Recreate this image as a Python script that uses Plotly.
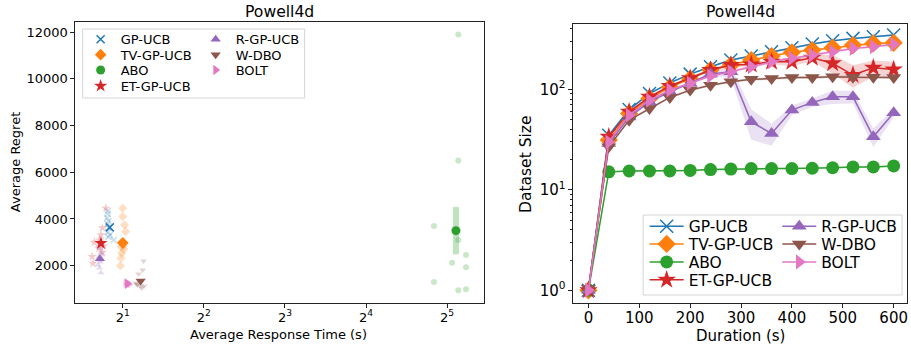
import plotly.graph_objects as go

# ---------------- data ----------------
methods = ["GP-UCB", "TV-GP-UCB", "ABO", "ET-GP-UCB", "R-GP-UCB", "W-DBO", "BOLT"]

# left panel: mean response time (s) and mean regret per method
mean_time = [1.79, 2.00, 34.5, 1.66, 1.645, 2.33, 2.08]
mean_regret = [3640, 2980, 3500, 2960, 2300, 1345, 1230]
abo_regret_err = 1010

# left panel: individual runs
gp_time = [1.76, 1.76, 1.75, 1.77, 1.76, 1.77, 1.76, 1.79, 1.77, 1.85]
gp_regret = [4340, 4210, 4040, 3910, 3790, 3610, 3440, 3320, 3230, 3100]
tv_time = [2.00, 2.00, 2.03, 2.05, 1.97, 1.98, 1.97, 1.96, 2.01, 2.02]
tv_regret = [4460, 4100, 3740, 3460, 2810, 2530, 2320, 2000, 2850, 2700]
abo_time = [35.2, 35.2, 28.6, 35.2, 37.6, 33.4, 37.6, 28.6, 35.2, 37.6]
abo_regret = [11890, 6500, 3700, 3100, 2460, 2130, 1930, 1300, 950, 990]
et_time = [1.73, 1.66, 1.57, 1.68, 1.55, 1.54, 1.70, 1.63, 1.68, 1.64]
et_regret = [4460, 3320, 3000, 2570, 2100, 2390, 2840, 2750, 3620, 3100]
r_time = [1.64, 1.66, 1.63, 1.65, 1.62, 1.64, 1.66, 1.65, 1.63, 1.67]
r_regret = [2750, 2560, 2390, 2240, 2030, 1900, 1700, 2160, 2890, 2460]
w_time = [2.39, 2.37, 2.29, 2.27, 2.33, 2.40, 2.24, 2.32, 2.35, 2.26]
w_regret = [2200, 1820, 1650, 1170, 1130, 1130, 1250, 1320, 1050, 1220]
bolt_time = [2.04, 2.06, 2.08, 2.10, 2.12, 2.05, 2.07, 2.09, 2.13, 2.05]
bolt_regret = [1180, 1230, 1270, 1250, 1210, 1300, 1160, 1240, 1200, 1280]

run_times = [gp_time, tv_time, abo_time, et_time, r_time, w_time, bolt_time]
run_regrets = [gp_regret, tv_regret, abo_regret, et_regret, r_regret, w_regret, bolt_regret]

# right panel: dataset size over duration
duration = [0, 40, 80, 120, 160, 200, 240, 280, 320, 360, 400, 440, 480, 520, 560, 600]
size_gp = [1, 35, 63, 91, 116, 142, 168, 196, 215, 237, 260, 283, 305, 322, 334, 348]
size_tv = [1, 31.3, 57.6, 81.3, 105, 127, 156, 175, 196, 215, 234, 246, 260, 276, 287, 291]
size_abo = [1, 15.1, 15.4, 15.4, 15.4, 15.6, 15.9, 16.1, 16.3, 16.3, 16.3, 16.4, 16.6, 16.9, 16.9, 17.3]
size_et = [1, 33.7, 59.8, 84.4, 108, 129, 156, 175, 177, 188, 188, 206, 182, 139, 164, 158]
size_r = [1, 29, 53, 75, 94.6, 115, 142, 150, 47.5, 36.4, 62.2, 74.2, 84.4, 84.4, 33.7, 58.5]
size_w = [1.05, 26.8, 49.4, 64.6, 83.2, 98.4, 110, 119, 126, 128, 131, 131, 134, 132, 132, 131]
size_bolt = [1, 30, 55.4, 78, 98.4, 115, 136, 150, 168, 188, 204, 220, 237, 256, 266, 281]

std_gp = [0, 1, 2, 2, 3, 3, 4, 4, 5, 5, 5, 6, 6, 6, 7, 7]
std_tv = [0, 1, 2, 2, 3, 3, 4, 4, 5, 5, 5, 6, 6, 6, 7, 7]
std_abo = [0, 0.3, 0.3, 0.3, 0.3, 0.3, 0.3, 0.3, 0.3, 0.3, 0.3, 0.3, 0.3, 0.3, 0.3, 0.3]
std_et = [0, 1, 2, 2, 3, 4, 5, 8, 8, 10, 18, 15, 38, 35, 30, 30]
std_r = [0, 1, 2, 2, 3, 4, 6, 20, 16, 9, 7, 7, 13, 12, 7, 6]
std_w = [0, 1, 1, 2, 2, 3, 3, 3, 4, 4, 4, 4, 4, 4, 4, 4]
std_bolt = [0, 1, 2, 2, 3, 3, 4, 5, 6, 6, 7, 7, 8, 8, 8, 8]

sizes = [size_gp, size_tv, size_abo, size_et, size_r, size_w, size_bolt]
stds = [std_gp, std_tv, std_abo, std_et, std_r, std_w, std_bolt]

left_yticks = [2000, 4000, 6000, 8000, 10000, 12000]
left_xtick_exps = [1, 2, 3, 4, 5]
right_xticks = [0, 100, 200, 300, 400, 500, 600]
right_ytick_exps = [0, 1, 2]

# ---------------- styles ----------------
colors = ["#1f77b4", "#ff7f0e", "#2ca02c", "#d62728", "#9467bd", "#8c564b", "#e377c2"]
symbols = ["x-thin", "diamond", "circle", "star", "triangle-up", "triangle-down", "triangle-right"]
left_msize = [8, 9, 9, 10, 9, 9, 9]
faint_msize = [6, 7, 6, 7, 6, 6, 7]
right_msize = [13, 14, 13, 14, 13, 13, 13]
# legend row (1-based) for each method in the 2-column legends
legend_row = [1, 2, 3, 4, 1, 2, 3]

W, H = 911, 347
FONT = "DejaVu Sans"


def rgba(hex_color, a):
    h = hex_color.lstrip("#")
    r, g, b = int(h[0:2], 16), int(h[2:4], 16), int(h[4:6], 16)
    return f"rgba({r},{g},{b},{a})"


fig = go.Figure()

# ---- left panel: faint individual runs ----
for i, m in enumerate(methods):
    mk = dict(symbol=symbols[i], size=faint_msize[i], color=rgba(colors[i], 0.25))
    if symbols[i] == "x-thin":
        mk["line"] = dict(color=rgba(colors[i], 0.25), width=1.5)
    else:
        mk["line"] = dict(width=0)
    fig.add_trace(go.Scatter(
        x=run_times[i], y=run_regrets[i], mode="markers", marker=mk,
        showlegend=False, xaxis="x", yaxis="y", hoverinfo="skip"))

# ---- left panel: means ----
for i, m in enumerate(methods):
    mk = dict(symbol=symbols[i], size=left_msize[i], color=colors[i])
    if symbols[i] == "x-thin":
        mk["line"] = dict(color=colors[i], width=1.5)
    else:
        mk["line"] = dict(width=0)
    err = None
    if m == "ABO":
        err = dict(type="constant", value=abo_regret_err, color=rgba(colors[i], 0.3),
                   thickness=6, width=0)
    lg = "legend" if legend_row[i] == 1 else f"legend{legend_row[i]}"
    fig.add_trace(go.Scatter(
        x=[mean_time[i]], y=[mean_regret[i]], mode="markers", marker=mk, error_y=err,
        name=m, legend=lg, xaxis="x", yaxis="y"))

# ---- right panel: bands ----
for i, m in enumerate(methods):
    upper = [s + d for s, d in zip(sizes[i], stds[i])]
    lower = [max(s - d, 0.5) for s, d in zip(sizes[i], stds[i])]
    fig.add_trace(go.Scatter(
        x=duration + duration[::-1], y=upper + lower[::-1], fill="toself",
        fillcolor=rgba(colors[i], 0.2), line=dict(width=0), mode="lines",
        showlegend=False, hoverinfo="skip", xaxis="x2", yaxis="y2"))

# ---- right panel: lines ----
for i, m in enumerate(methods):
    mk = dict(symbol=symbols[i], size=right_msize[i], color=colors[i])
    if symbols[i] == "x-thin":
        mk["line"] = dict(color=colors[i], width=1.5)
    else:
        mk["line"] = dict(width=0)
    lg = f"legend{4 + legend_row[i]}"
    fig.add_trace(go.Scatter(
        x=duration, y=sizes[i], mode="lines+markers", marker=mk,
        line=dict(color=colors[i], width=1.5), name=m, legend=lg,
        xaxis="x2", yaxis="y2"))

axis_common = dict(showline=True, linecolor="#222", linewidth=1, mirror=True,
                   ticks="outside", ticklen=4, tickwidth=1, tickcolor="#222",
                   showgrid=False, zeroline=False, automargin=False)

L0, L1 = 75.7, 486.0
R0 = 576.0
LT, LB = 22.3, 303.3
RT, RB = 24.0, 303.3

fig.update_layout(
    width=W, height=H,
    margin=dict(l=0, r=0, t=0, b=0),
    paper_bgcolor="white", plot_bgcolor="white",
    font=dict(family=FONT, color="black", size=13),
    xaxis=dict(axis_common, domain=[L0 / W, L1 / W], anchor="y", type="log",
               range=[0.1251, 1.6415],
               tickvals=[2 ** e for e in left_xtick_exps],
               ticktext=[f"2<sup>{e}</sup>" for e in left_xtick_exps],
               tickfont=dict(size=13), ticklabelstandoff=-2),
    yaxis=dict(axis_common, domain=[1 - LB / H, 1 - LT / H], anchor="x",
               range=[391, 12415], tickvals=left_yticks,
               ticktext=[str(v) for v in left_yticks], tickfont=dict(size=13)),
    xaxis2=dict(axis_common, domain=[R0 / W, 1.0], anchor="y2",
                range=[-29.4, 626.2], tickvals=right_xticks,
                ticktext=[str(v) for v in right_xticks], tickfont=dict(size=15),
                ticklabelstandoff=-3),
    yaxis2=dict(axis_common, domain=[1 - RB / H, 1 - RT / H], anchor="x2", type="log",
                range=[-0.1295, 2.651],
                tickvals=[10 ** e for e in right_ytick_exps],
                ticktext=[f"10<sup>{e}</sup>" for e in right_ytick_exps],
                tickfont=dict(size=15),
                minor=dict(ticks="outside", ticklen=2, tickwidth=1, tickcolor="#222",
                           tickvals=[k * 10 ** e for e in [0, 1, 2] for k in range(2, 10)],
                           showgrid=False)),
)

# legends: left rows at y px, right rows
left_rows = [39.3, 54.7, 70.0, 86.0]
right_rows = [226.7, 244.3, 262.3, 280.3]
for r in range(4):
    key = "legend" if r == 0 else f"legend{r + 1}"
    fig.update_layout({key: dict(
        x=81 / W, y=1 - left_rows[r] / H, xanchor="left", yanchor="middle",
        orientation="h", entrywidth=70, entrywidthmode="pixels",
        bgcolor="rgba(0,0,0,0)", borderwidth=0, font=dict(size=13, family=FONT),
        traceorder="normal", itemsizing="trace")})
    key2 = f"legend{r + 5}"
    fig.update_layout({key2: dict(
        x=647.5 / W, y=1 - right_rows[r] / H, xanchor="left", yanchor="middle",
        orientation="h", entrywidth=83.6, entrywidthmode="pixels", itemwidth=34,
        bgcolor="rgba(0,0,0,0)", borderwidth=0, font=dict(size=15.5, family=FONT),
        traceorder="normal", itemsizing="trace")})

# legend frames
fig.add_shape(type="rect", xref="paper", yref="paper",
              x0=83 / W, x1=306 / W, y0=1 - 98 / H, y1=1 - 29 / H,
              line=dict(color="#d5d5d5", width=1), fillcolor="white", layer="above")
fig.add_shape(type="rect", xref="paper", yref="paper",
              x0=646 / W, x1=906 / W, y0=1 - 295 / H, y1=1 - 215 / H,
              line=dict(color="#d5d5d5", width=1), fillcolor="white", layer="above")

# titles and axis labels
ann = [
    dict(text="Powell4d", x=(L0 + L1) / 2 / W, y=1 - 12 / H, size=15.6, angle=0),
    dict(text="Powell4d", x=743.5 / W, y=1 - 12 / H, size=15.6, angle=0),
    dict(text="Average Response Time (s)", x=280 / W, y=1 - 334 / H, size=13, angle=0),
    dict(text="Duration (s)", x=743.8 / W, y=1 - 335.5 / H, size=15, angle=0),
    dict(text="Average Regret", x=15.7 / W, y=1 - 162.5 / H, size=13, angle=-90),
    dict(text="Dataset Size", x=528.3 / W, y=1 - 164 / H, size=15.5, angle=-90),
]
for a in ann:
    fig.add_annotation(text=a["text"], x=a["x"], y=a["y"], xref="paper", yref="paper",
                       xanchor="center", yanchor="middle", showarrow=False,
                       textangle=a["angle"], font=dict(size=a["size"], family=FONT, color="black"))

fig.write_html("out.html", config={"displayModeBar": False},
               post_script="document.body.style.margin='0';document.body.style.overflow='hidden';")
